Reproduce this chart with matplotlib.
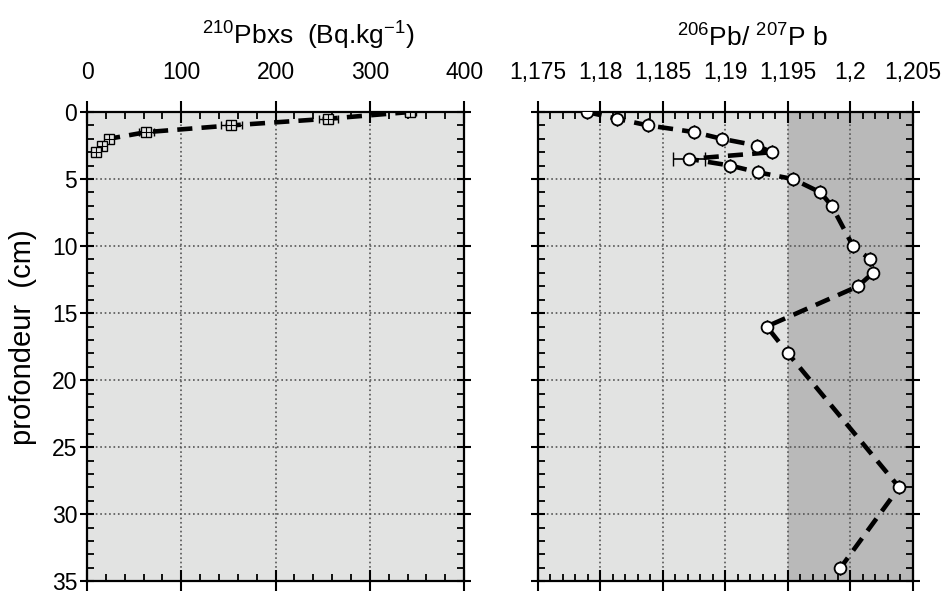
"""
Profils 210Pbxs et 206Pb/207Pb en fonction de la profondeur
"""
import matplotlib
matplotlib.use('Agg')
import matplotlib.pyplot as plt
from matplotlib.ticker import MultipleLocator, FixedLocator, FixedFormatter

plt.rcParams['font.family'] = ['Liberation Sans', 'DejaVu Sans']
plt.rcParams['mathtext.default'] = 'regular'

# ===== Données 210Pbxs =====
pb210_depth = [0, 0.5, 1.0, 1.5, 2.0, 2.5, 3.0]
pb210_value = [343, 256, 153, 63, 23, 16, 9]
pb210_err = [6, 10, 11, 8, 4, 4, 4]

# ===== Données 206Pb/207Pb =====
ratio_depth = [0, 0.5, 1.0, 1.5, 2.0, 2.5, 3.0, 3.5, 4.0, 4.5, 5.0, 6.0, 7.0,
               10.0, 11.0, 12.0, 13.0, 16.0, 18.0, 28.0, 34.0]
ratio_value = [1.1789, 1.1813, 1.1838, 1.1875, 1.1897, 1.1925, 1.1937, 1.1871,
               1.1904, 1.1926, 1.1954, 1.1976, 1.1985, 1.2002, 1.2016, 1.2018,
               1.2006, 1.1933, 1.1950, 1.2039, 1.1992]
ratio_err = [0, 0, 0, 0, 0, 0, 0, 0.0013, 0, 0, 0, 0, 0, 0, 0, 0, 0, 0, 0, 0, 0]

ratio_ticks = [1.175, 1.18, 1.185, 1.19, 1.195, 1.2, 1.205]
ratio_labels = ['1,175', '1,18', '1,185', '1,19', '1,195', '1,2', '1,205']
depth_ticks = [0, 5, 10, 15, 20, 25, 30, 35]

light_bg = '#e2e3e2'
dark_bg = '#b9b9b9'

fig = plt.figure(figsize=(9.45, 5.91), dpi=100)
ax1 = fig.add_axes([0.0921, 0.0165, 0.399, 0.794])
ax2 = fig.add_axes([0.5693, 0.0165, 0.3968, 0.794])


def style_axis(ax):
    ax.set_ylim(35, 0)
    ax.yaxis.set_major_locator(FixedLocator(depth_ticks))
    ax.yaxis.set_minor_locator(MultipleLocator(1))
    ax.xaxis.set_ticks_position('both')
    ax.yaxis.set_ticks_position('both')
    ax.tick_params(axis='x', which='major', direction='inout', length=16,
                   width=1.5, labeltop=True, labelbottom=False, labelsize=16.5, pad=12)
    ax.tick_params(axis='y', which='major', direction='inout', length=10,
                   width=1.5, labelsize=16.5, pad=2)
    ax.tick_params(which='minor', direction='in', length=5, width=1.3)
    ax.grid(True, which='major', linestyle=':', color='#555555', linewidth=1.2)
    ax.set_axisbelow(True)
    for sp in ax.spines.values():
        sp.set_linewidth(1.6)


# ===== Panneau 1 : 210Pbxs =====
ax1.set_facecolor(light_bg)
ax1.set_xlim(0, 400)
ax1.xaxis.set_major_locator(MultipleLocator(100))
ax1.xaxis.set_minor_locator(MultipleLocator(20))
style_axis(ax1)
ax1.plot(pb210_value, pb210_depth, color='black', lw=3.3, dashes=(3.3, 2.0), zorder=3)
ax1.errorbar(pb210_value, pb210_depth, xerr=pb210_err, fmt='none', ecolor='black',
             elinewidth=1, capsize=3, zorder=4)
ax1.plot(pb210_value, pb210_depth, 's', ms=7, mfc=light_bg, mec='black', mew=1, zorder=5)
ax1.plot(pb210_value, pb210_depth, '+', ms=7, color='black', mew=0.8, zorder=6)
ax1.set_ylabel('profondeur  (cm)', fontsize=21)
ax1.yaxis.set_label_coords(-0.133, 0.521)

# ===== Panneau 2 : 206Pb/207Pb =====
ax2.set_facecolor(light_bg)
ax2.set_xlim(1.175, 1.205)
ax2.axvspan(1.195, 1.205, color=dark_bg, zorder=0)
ax2.xaxis.set_major_locator(FixedLocator(ratio_ticks))
ax2.xaxis.set_major_formatter(FixedFormatter(ratio_labels))
ax2.xaxis.set_minor_locator(MultipleLocator(0.001))
style_axis(ax2)
ax2.tick_params(axis='y', labelleft=False)
ax2.plot(ratio_value, ratio_depth, color='black', lw=3.3, dashes=(3.3, 2.0), zorder=3)
ax2.errorbar(ratio_value, ratio_depth, xerr=ratio_err, fmt='none', ecolor='black',
             elinewidth=1.2, capsize=5, zorder=4)
ax2.plot(ratio_value, ratio_depth, 'o', ms=8.5, mfc='white', mec='black', mew=1.3, zorder=5)

# Titres
fig.text(308 / 945, 0.940, '$^{210}$Pbxs  (Bq.kg$^{-1}$)', fontsize=19,
         ha='center', va='center')
fig.text(752 / 945, 0.936, '$^{206}$Pb/ $^{207}$P b', fontsize=19,
         ha='center', va='center')

plt.savefig('out.png', dpi=100, facecolor='white')
plt.close()
